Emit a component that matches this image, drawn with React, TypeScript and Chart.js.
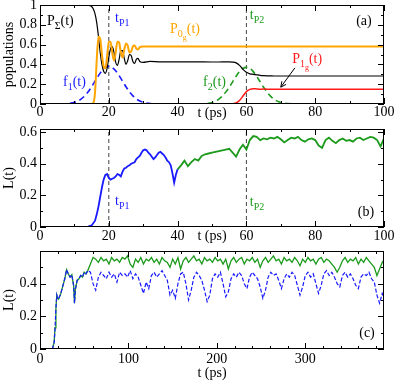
import React, { useEffect, useRef } from "react";
import { Chart, registerables } from "chart.js";

Chart.register(...registerables);

const FONT = "'Liberation Serif', 'Times New Roman', Times, serif";

// ---------------- Panel (a): populations ----------------
const timeA = [
  0, 5, 10, 13,
  14, 14.5, 15, 15.5, 16, 16.5, 17, 17.5, 18, 18.5, 19, 19.5, 20, 20.5, 21, 21.5,
  22, 22.5, 23, 23.5, 24, 24.5, 25, 25.5, 26, 26.5, 27, 27.5, 28, 28.5, 29,
  30, 32, 35, 40, 45, 50, 52, 54,
  55, 56, 57, 58, 59, 60, 61, 62, 63, 64, 65, 66, 67, 68,
  70, 75, 80, 85, 90, 95, 100,
];
const popSigma = [
  1, 1, 1, 1,
  0.998, 0.994, 0.985, 0.96, 0.91, 0.82, 0.68, 0.52, 0.4, 0.33, 0.31, 0.36, 0.47, 0.56, 0.58, 0.52,
  0.42, 0.39, 0.45, 0.54, 0.54, 0.46, 0.4, 0.44, 0.5, 0.49, 0.43, 0.41, 0.45, 0.46, 0.43,
  0.42, 0.43, 0.425, 0.425, 0.425, 0.424, 0.424, 0.425,
  0.425, 0.423, 0.415, 0.39, 0.35, 0.32, 0.305, 0.3, 0.295, 0.29, 0.287, 0.285, 0.284, 0.283,
  0.283, 0.283, 0.283, 0.283, 0.283, 0.283, 0.283,
];
const popG0 = [
  0, 0, 0, 0,
  0, 0, 0.002, 0.01, 0.12, 0.45, 0.68, 0.66, 0.5, 0.38, 0.36, 0.48, 0.63, 0.63, 0.52, 0.44,
  0.52, 0.63, 0.62, 0.52, 0.47, 0.55, 0.61, 0.59, 0.52, 0.53, 0.58, 0.59, 0.56, 0.55, 0.575,
  0.58, 0.58, 0.58, 0.58, 0.58, 0.58, 0.58, 0.58,
  0.58, 0.58, 0.58, 0.58, 0.58, 0.58, 0.58, 0.58, 0.58, 0.58, 0.58, 0.58, 0.58, 0.58,
  0.58, 0.58, 0.58, 0.58, 0.58, 0.58, 0.58,
];
const popG1 = [
  0, 0, 0, 0,
  0, 0, 0, 0, 0, 0, 0, 0, 0, 0, 0, 0, 0, 0, 0, 0,
  0, 0, 0, 0, 0, 0, 0, 0, 0, 0, 0, 0, 0, 0, 0,
  0, 0, 0, 0, 0, 0, 0, 0,
  0, 0.002, 0.01, 0.035, 0.08, 0.125, 0.148, 0.155, 0.152, 0.149, 0.151, 0.15, 0.15, 0.15,
  0.15, 0.15, 0.15, 0.15, 0.15, 0.15, 0.15,
];
const timeF1 = [
  0, 1, 2, 3, 4, 5, 6, 7, 8, 9, 10, 11, 12, 13, 14, 15, 16, 17, 18, 19, 20,
  21, 22, 23, 24, 25, 26, 27, 28, 29, 30, 31, 32, 33, 34, 35, 36, 37, 38, 39, 40,
];
const pulseF1 = [
  0, 0, 0, 0, 0, 0, 0.001, 0.002, 0.004, 0.009, 0.017, 0.03, 0.051, 0.082, 0.123, 0.174, 0.23, 0.287, 0.335, 0.368, 0.38,
  0.368, 0.335, 0.287, 0.23, 0.174, 0.123, 0.082, 0.051, 0.03, 0.017, 0.009, 0.004, 0.002, 0.001, 0, 0, 0, 0, 0, 0,
];
const timeF2 = [
  40, 41, 42, 43, 44, 45, 46, 47, 48, 49, 50, 51, 52, 53, 54, 55, 56, 57, 58, 59, 60,
  61, 62, 63, 64, 65, 66, 67, 68, 69, 70, 71, 72, 73, 74, 75, 76, 77, 78, 79, 80,
];
const pulseF2 = [
  0, 0, 0, 0, 0, 0, 0.001, 0.002, 0.004, 0.008, 0.016, 0.029, 0.05, 0.08, 0.12, 0.169, 0.224, 0.279, 0.327, 0.359, 0.37,
  0.359, 0.327, 0.279, 0.224, 0.169, 0.12, 0.08, 0.05, 0.029, 0.016, 0.008, 0.004, 0.002, 0.001, 0, 0, 0, 0, 0, 0,
];
const pulseTimes = [20, 60];

// ---------------- Panel (b): L(t), first 100 ps ----------------
const timeB1 = [
  0, 5, 10, 13, 14, 15, 16,
  16.5, 17, 17.5, 18, 18.5, 19, 19.5, 20, 20.5, 21, 21.5, 22, 22.5, 23, 23.5, 24,
  24.5, 25, 25.5, 26, 26.5, 27, 27.5, 28, 28.5, 29, 29.5, 30, 30.5, 31, 31.5, 32,
  32.5, 33, 33.5, 34, 34.5, 35, 35.5, 36, 36.5, 37, 37.5, 38, 38.5, 39, 39.5, 40,
];
const lumB1 = [
  0, 0, 0, 0, 0.002, 0.01, 0.04,
  0.08, 0.13, 0.19, 0.25, 0.3, 0.33, 0.335, 0.31, 0.3, 0.305, 0.31, 0.32, 0.335, 0.33, 0.32, 0.35,
  0.37, 0.375, 0.385, 0.39, 0.4, 0.405, 0.41, 0.43, 0.44, 0.45, 0.47, 0.485, 0.49, 0.485, 0.47, 0.46,
  0.445, 0.43, 0.44, 0.455, 0.47, 0.475, 0.465, 0.455, 0.44, 0.42, 0.41, 0.39, 0.34, 0.28, 0.33, 0.365,
];
const timeB2 = [
  40, 41, 42, 43, 44, 45, 46, 47, 48, 49, 50, 51, 52, 53, 54, 55, 56, 57, 58, 59, 60,
  61, 62, 63, 64, 65, 66, 67, 68, 69, 70, 71, 72, 73, 74, 75, 76, 77, 78, 79, 80,
  81, 82, 83, 84, 85, 86, 87, 88, 89, 90, 91, 92, 93, 94, 95, 96, 97, 98, 99, 100,
];
const lumB2 = [
  0.365, 0.39, 0.42, 0.385, 0.41, 0.43, 0.42, 0.45, 0.46, 0.465, 0.47, 0.475, 0.48, 0.485, 0.49, 0.495, 0.47, 0.445, 0.49, 0.52, 0.49,
  0.55, 0.575, 0.57, 0.55, 0.56, 0.555, 0.565, 0.56, 0.57, 0.555, 0.535, 0.55, 0.565, 0.56, 0.57, 0.55, 0.54, 0.555, 0.56, 0.55,
  0.515, 0.5, 0.55, 0.565, 0.545, 0.53, 0.55, 0.56, 0.545, 0.55, 0.54, 0.56, 0.565, 0.55, 0.56, 0.57, 0.565, 0.55, 0.51, 0.56,
];

// ---------------- Panel (c): L(t), long run ----------------
const timeCEarly = [0, 10, 14, 16, 17, 18, 19, 20, 21, 22, 23, 24, 26, 28, 30, 32, 34, 36, 37, 38, 39, 40, 42, 44, 46, 48, 50, 52, 54];
const lumCEarly = [0, 0, 0, 0.04, 0.13, 0.25, 0.33, 0.31, 0.305, 0.32, 0.33, 0.35, 0.39, 0.43, 0.485, 0.46, 0.44, 0.455, 0.42, 0.39, 0.28, 0.365, 0.42, 0.43, 0.45, 0.44, 0.47, 0.46, 0.48];
const timeCLate = [
  57, 60, 63, 66, 69, 72, 75, 78, 81, 84,
  87, 90, 93, 96, 99, 102, 105, 108, 111, 114,
  117, 120, 123, 126, 129, 132, 135, 138, 141, 144,
  147, 150, 153, 156, 159, 162, 165, 168, 171, 174,
  177, 180, 183, 186, 189, 192, 195, 198, 201, 204,
  207, 210, 213, 216, 219, 222, 225, 228, 231, 234,
  237, 240, 243, 246, 249, 252, 255, 258, 261, 264,
  267, 270, 273, 276, 279, 282, 285, 288, 291, 294,
  297, 300, 303, 306, 309, 312, 315, 318, 321, 324,
  327, 330, 333, 336, 339, 342, 345, 348, 351, 354,
  357, 360, 363, 366, 369, 372, 375, 378, 381, 384,
  387, 390,
];
const lumCSolid = [
  0.52, 0.56, 0.55, 0.53, 0.56, 0.54, 0.55, 0.52, 0.56, 0.54,
  0.55, 0.53, 0.56, 0.55, 0.57, 0.52, 0.5, 0.55, 0.53, 0.56,
  0.52, 0.55, 0.54, 0.56, 0.53, 0.55, 0.52, 0.56, 0.54, 0.53,
  0.5, 0.55, 0.52, 0.56, 0.49, 0.54, 0.56, 0.53, 0.55, 0.57,
  0.54, 0.55, 0.52, 0.56, 0.54, 0.55, 0.53, 0.56, 0.54, 0.55,
  0.52, 0.55, 0.49, 0.54, 0.56, 0.53, 0.55, 0.56, 0.52, 0.55,
  0.54, 0.56, 0.53, 0.55, 0.5, 0.54, 0.56, 0.53, 0.55, 0.57,
  0.54, 0.55, 0.52, 0.56, 0.54, 0.55, 0.53, 0.56, 0.54, 0.51,
  0.55, 0.53, 0.56, 0.54, 0.55, 0.52, 0.55, 0.56, 0.53, 0.55,
  0.54, 0.52, 0.5, 0.47, 0.5, 0.54, 0.56, 0.53, 0.55, 0.54,
  0.56, 0.52, 0.55, 0.53, 0.56, 0.54, 0.52, 0.5, 0.45, 0.49,
  0.53, 0.55,
];
const lumCDashed = [
  0.47, 0.4, 0.36, 0.44, 0.47, 0.45, 0.43, 0.47, 0.44, 0.46,
  0.41, 0.47, 0.45, 0.46, 0.44, 0.48, 0.43, 0.46, 0.44, 0.39,
  0.34, 0.41, 0.37, 0.45, 0.47, 0.44, 0.46, 0.48, 0.45, 0.42,
  0.33, 0.36, 0.31, 0.4, 0.46, 0.47, 0.4, 0.3, 0.36, 0.44,
  0.47, 0.45, 0.42, 0.36, 0.29, 0.33, 0.43, 0.46, 0.44, 0.47,
  0.4, 0.32, 0.35, 0.43, 0.46, 0.44, 0.47, 0.45, 0.4, 0.37,
  0.44, 0.47, 0.45, 0.43, 0.38, 0.31, 0.36, 0.44, 0.47, 0.45,
  0.46, 0.42, 0.37, 0.43, 0.46, 0.44, 0.47, 0.45, 0.39, 0.33,
  0.38, 0.45, 0.47, 0.44, 0.46, 0.4, 0.34, 0.39, 0.46, 0.48,
  0.45, 0.47, 0.44, 0.4, 0.38, 0.45, 0.47, 0.44, 0.46, 0.43,
  0.39, 0.37, 0.44, 0.46, 0.45, 0.47, 0.43, 0.41, 0.33, 0.28,
  0.34, 0.3,
];

// ---------------- styling ----------------
const BLACK = "#000000";
const ORANGE = "#ffa500";
const RED = "#ff1a1a";
const BLUE = "#1a1aff";
const GREEN = "#1c9a1c";
const GRAY = "#444444";

type Part = [string, number];
type Note = { x: number; y: number; parts: Part[]; color: string };

const notesA: Note[] = [
  { x: 2, y: 0.8, parts: [["P", 0], ["Σ", 1], ["(t)", 0]], color: BLACK },
  { x: 21.8, y: 0.83, parts: [["t", 0], ["P1", 1]], color: BLUE },
  { x: 37.8, y: 0.72, parts: [["P", 0], ["0", 1], ["g", 2], ["(t)", 0]], color: ORANGE },
  { x: 6.7, y: 0.18, parts: [["f", 0], ["1", 1], ["(t)", 0]], color: BLUE },
  { x: 61, y: 0.86, parts: [["t", 0], ["P2", 1]], color: GREEN },
  { x: 47.4, y: 0.18, parts: [["f", 0], ["2", 1], ["(t)", 0]], color: GREEN },
  { x: 73.3, y: 0.41, parts: [["P", 0], ["1", 1], ["g", 2], ["(t)", 0]], color: RED },
  { x: 91.9, y: 0.8, parts: [["(a)", 0]], color: BLACK },
];
const notesB: Note[] = [
  { x: 21.8, y: 0.14, parts: [["t", 0], ["P1", 1]], color: BLUE },
  { x: 61, y: 0.13, parts: [["t", 0], ["P2", 1]], color: GREEN },
  { x: 92.4, y: 0.07, parts: [["(b)", 0]], color: BLACK },
];
const notesC: Note[] = [{ x: 361, y: 0.075, parts: [["(c)", 0]], color: BLACK }];

type Deco = {
  xMajor: number;
  xMinor: number;
  yMajor: number;
  yMinor: number;
  notes: Note[];
  arrow?: { from: [number, number]; to: [number, number] };
};

function drawRich(ctx: CanvasRenderingContext2D, x: number, y: number, parts: Part[], color: string) {
  ctx.save();
  ctx.fillStyle = color;
  ctx.textBaseline = "alphabetic";
  ctx.textAlign = "left";
  let cx = x;
  for (const [txt, lvl] of parts) {
    const size = lvl === 0 ? 14 : lvl === 1 ? 10 : 8;
    const dy = lvl === 0 ? 0 : lvl === 1 ? 4 : 7;
    ctx.font = `${size}px ${FONT}`;
    ctx.fillText(txt, cx, y + dy);
    cx += ctx.measureText(txt).width;
  }
  ctx.restore();
}

function decorations(cfg: Deco) {
  return {
    id: "decorations",
    afterDatasetsDraw(chart: any) {
      const { ctx, chartArea: a } = chart;
      const xs = chart.scales.x;
      const ys = chart.scales.y;
      ctx.save();
      ctx.setLineDash([]);
      ctx.strokeStyle = BLACK;
      ctx.lineWidth = 1;
      ctx.strokeRect(a.left + 0.5, a.top + 0.5, a.right - a.left - 1, a.bottom - a.top - 1);
      ctx.beginPath();
      const nx = Math.round((xs.max - xs.min) / cfg.xMinor);
      for (let i = 0; i <= nx; i++) {
        const v = xs.min + i * cfg.xMinor;
        if (v > xs.max + 1e-9) break;
        const r = v / cfg.xMajor;
        const len = Math.abs(r - Math.round(r)) < 1e-6 ? 6 : 3;
        const p = Math.round(xs.getPixelForValue(v)) + 0.5;
        ctx.moveTo(p, a.bottom);
        ctx.lineTo(p, a.bottom - len);
        ctx.moveTo(p, a.top);
        ctx.lineTo(p, a.top + len);
      }
      const ny = Math.round((ys.max - ys.min) / cfg.yMinor);
      for (let i = 0; i <= ny; i++) {
        const v = ys.min + i * cfg.yMinor;
        if (v > ys.max + 1e-9) break;
        const r = v / cfg.yMajor;
        const len = Math.abs(r - Math.round(r)) < 1e-6 ? 6 : 3;
        const p = Math.round(ys.getPixelForValue(v)) + 0.5;
        ctx.moveTo(a.left, p);
        ctx.lineTo(a.left + len, p);
        ctx.moveTo(a.right, p);
        ctx.lineTo(a.right - len, p);
      }
      ctx.stroke();
      for (const n of cfg.notes) {
        drawRich(ctx, xs.getPixelForValue(n.x), ys.getPixelForValue(n.y), n.parts, n.color);
      }
      if (cfg.arrow) {
        const x1 = xs.getPixelForValue(cfg.arrow.from[0]);
        const y1 = ys.getPixelForValue(cfg.arrow.from[1]);
        const x2 = xs.getPixelForValue(cfg.arrow.to[0]);
        const y2 = ys.getPixelForValue(cfg.arrow.to[1]);
        const ang = Math.atan2(y2 - y1, x2 - x1);
        ctx.beginPath();
        ctx.moveTo(x1, y1);
        ctx.lineTo(x2, y2);
        ctx.moveTo(x2 - 6 * Math.cos(ang - 0.45), y2 - 6 * Math.sin(ang - 0.45));
        ctx.lineTo(x2, y2);
        ctx.lineTo(x2 - 6 * Math.cos(ang + 0.45), y2 - 6 * Math.sin(ang + 0.45));
        ctx.stroke();
      }
      ctx.restore();
    },
  };
}

const xy = (ts: number[], vs: number[]) => ts.map((t, i) => ({ x: t, y: vs[i] }));
const fmtY = (v: any) => String(Math.round(Number(v) * 10) / 10);

type Panel = {
  padTop: number;
  xAxisH: number;
  xMax: number;
  xStep: number;
  xTickPad: number;
  xTitlePad: number;
  yMax: number;
  yTitle: string;
  hideTop?: boolean;
};

function baseOptions(p: Panel): any {
  const font = { family: FONT, size: 14 };
  return {
    responsive: false,
    animation: false,
    devicePixelRatio: 1,
    layout: { padding: { left: 0, right: 11, top: p.padTop, bottom: 0 } },
    plugins: { legend: { display: false }, tooltip: { enabled: false } },
    elements: { point: { radius: 0 } },
    scales: {
      x: {
        type: "linear",
        min: 0,
        max: p.xMax,
        grid: { display: false, drawTicks: false },
        border: { display: false },
        ticks: {
          stepSize: p.xStep,
          includeBounds: false,
          autoSkip: false,
          maxRotation: 0,
          padding: p.xTickPad,
          color: BLACK,
          font,
          callback: (v: any) => String(v),
        },
        title: { display: true, text: "t (ps)", color: BLACK, font, padding: { top: 0, bottom: p.xTitlePad } },
        afterFit: (s: any) => {
          s.height = p.xAxisH;
          s.paddingLeft = 0;
          s.paddingRight = 0;
        },
      },
      y: {
        type: "linear",
        min: 0,
        max: p.yMax,
        grid: { display: false, drawTicks: false },
        border: { display: false },
        ticks: {
          stepSize: 0.2,
          includeBounds: false,
          autoSkip: false,
          padding: 3,
          color: BLACK,
          font,
          callback: (v: any) => (p.hideTop && Number(v) > 0.55 ? "" : fmtY(v)),
        },
        title: { display: true, text: p.yTitle, color: BLACK, font, padding: { top: 0.5, bottom: 0 } },
        afterFit: (s: any) => {
          s.width = 40;
          s.paddingTop = 0;
          s.paddingBottom = 0;
        },
      },
    },
  };
}

function vlines(yMax: number) {
  return pulseTimes.map((t) => ({
    data: [
      { x: t, y: 0 },
      { x: t, y: yMax },
    ],
    borderColor: GRAY,
    borderWidth: 1,
    borderDash: [4, 3],
    pointRadius: 0,
  }));
}

function makeA(canvas: HTMLCanvasElement) {
  return new Chart(canvas, {
    type: "line",
    data: {
      datasets: [
        { data: xy(timeA, popG0), borderColor: ORANGE, borderWidth: 2, cubicInterpolationMode: "monotone" },
        { data: xy(timeA, popG1), borderColor: RED, borderWidth: 1.5, cubicInterpolationMode: "monotone" },
        { data: xy(timeA, popSigma), borderColor: BLACK, borderWidth: 1.2, cubicInterpolationMode: "monotone" },
        { data: xy(timeF1, pulseF1), borderColor: BLUE, borderWidth: 1.6, borderDash: [6, 4], cubicInterpolationMode: "monotone" },
        { data: xy(timeF2, pulseF2), borderColor: GREEN, borderWidth: 1.6, borderDash: [6, 4], cubicInterpolationMode: "monotone" },
        ...vlines(1),
      ] as any,
    },
    options: baseOptions({ padTop: 5, xAxisH: 18, xMax: 100, xStep: 20, xTickPad: 0, xTitlePad: 0.6, yMax: 1, yTitle: "populations" }),
    plugins: [
      decorations({ xMajor: 20, xMinor: 10, yMajor: 0.2, yMinor: 0.1, notes: notesA, arrow: { from: [74.1, 0.365], to: [70, 0.17] } }),
    ],
  });
}

function makeB(canvas: HTMLCanvasElement) {
  return new Chart(canvas, {
    type: "line",
    data: {
      datasets: [
        { data: xy(timeB1, lumB1), borderColor: BLUE, borderWidth: 1.8 },
        { data: xy(timeB2, lumB2), borderColor: GREEN, borderWidth: 1.8 },
        ...vlines(0.62),
      ] as any,
    },
    options: baseOptions({ padTop: 7, xAxisH: 18, xMax: 100, xStep: 20, xTickPad: 1, xTitlePad: 0, yMax: 0.62, yTitle: "L(t)" }),
    plugins: [decorations({ xMajor: 20, xMinor: 10, yMajor: 0.2, yMinor: 0.1, notes: notesB })],
  });
}

function makeC(canvas: HTMLCanvasElement) {
  return new Chart(canvas, {
    type: "line",
    data: {
      datasets: [
        { data: xy(timeCEarly, lumCEarly).concat(xy(timeCLate, lumCDashed)), borderColor: BLUE, borderWidth: 1.2, borderDash: [4, 2] },
        { data: xy(timeCEarly, lumCEarly).concat(xy(timeCLate, lumCSolid)), borderColor: GREEN, borderWidth: 1.3 },
      ] as any,
    },
    options: baseOptions({ padTop: 6, xAxisH: 33, xMax: 389, xStep: 100, xTickPad: 2, xTitlePad: 0, yMax: 0.6, yTitle: "L(t)", hideTop: true }),
    plugins: [decorations({ xMajor: 100, xMinor: 20, yMajor: 0.2, yMinor: 0.1, notes: notesC })],
  });
}

export default function App() {
  const refA = useRef<HTMLCanvasElement>(null);
  const refB = useRef<HTMLCanvasElement>(null);
  const refC = useRef<HTMLCanvasElement>(null);

  useEffect(() => {
    const charts = [makeA(refA.current!), makeB(refB.current!), makeC(refC.current!)];
    return () => charts.forEach((c) => c.destroy());
  }, []);

  return (
    <div style={{ position: "absolute", left: 0, top: 0, width: 395, height: 382, background: "#fff" }}>
      <canvas ref={refA} width={395} height={122} style={{ position: "absolute", left: 0, top: 0, width: 395, height: 122 }} />
      <canvas ref={refB} width={395} height={123} style={{ position: "absolute", left: 0, top: 122, width: 395, height: 123 }} />
      <canvas ref={refC} width={395} height={137} style={{ position: "absolute", left: 0, top: 245, width: 395, height: 137 }} />
    </div>
  );
}
